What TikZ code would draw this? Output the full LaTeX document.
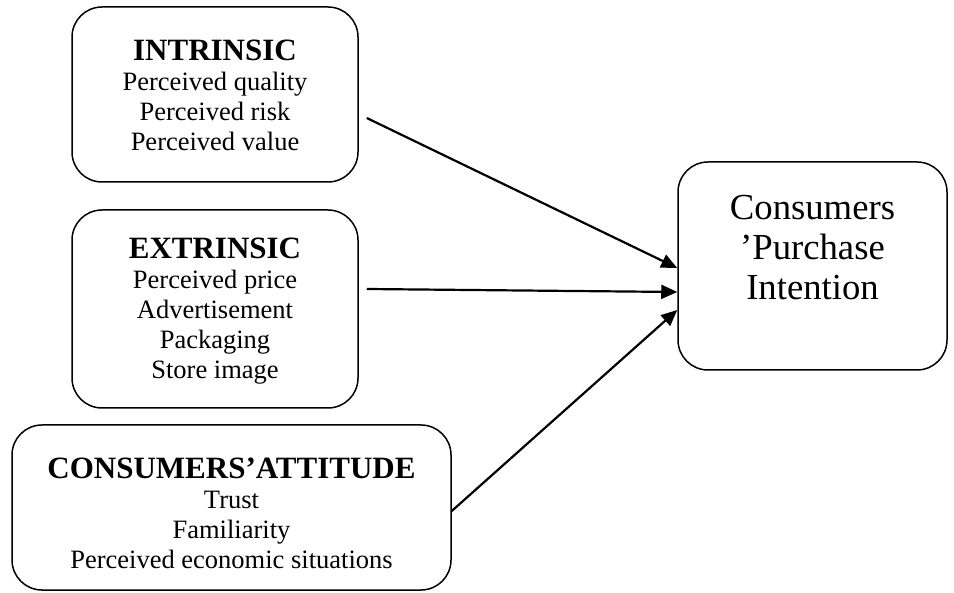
\documentclass[tikz,border=0pt]{standalone}
\usepackage{fontspec}
\setmainfont{Liberation Serif}
\usetikzlibrary{arrows.meta, positioning, calc}

\begin{document}
\begin{tikzpicture}[x=1pt, y=-1pt,
    box/.style={draw, line width=1.5pt, rounded corners=30pt, inner sep=0pt},
    factor/.style={align=center, font=\fontsize{26.5}{30}\selectfont},
    head/.style={font=\fontsize{31}{31}\selectfont\bfseries},
    arr/.style={line width=2.2pt, -{Triangle[length=16pt, width=14pt]}}]
    % Fix the page size
    \useasboundingbox (0,0) rectangle (954,593);

    % Draw factor boxes on the left
    \node[box, minimum width=286pt, minimum height=175pt] (intr) at (215, 94.5) {};
    \node[factor] (intrtext) at ([yshift=-1pt]intr.center) {{\fontsize{31}{31}\selectfont\bfseries INTRINSIC}\\ Perceived quality\\ Perceived risk\\ Perceived value};

    \node[box, minimum width=286pt, minimum height=198pt] (extr) at (215, 309) {};
    \node[factor] (extrtext) at ([yshift=-2pt]extr.center) {{\fontsize{31}{31}\selectfont\bfseries EXTRINSIC}\\ Perceived price\\ Advertisement\\ Packaging\\ Store image};

    \node[box, minimum width=439pt, minimum height=165pt] (att) at (231.5, 507.5) {};
    \node[factor] (atttext) at ([yshift=-6pt]att.center) {{\fontsize{31}{31}\selectfont\bfseries CONSUMERS’ATTITUDE}\\ Trust\\ Familiarity\\ Perceived economic situations};

    % Draw outcome box on the right
    \node[box, minimum width=269pt, minimum height=208pt] (pi) at (812.5, 266) {};
    \node[align=center, font=\fontsize{36.7}{40}\selectfont] (pitext) at ([yshift=18pt]pi.center) {Consumers\\ ’Purchase\\ Intention};

    % Draw arrows
    \draw[arr] ([xshift=8pt, yshift=-23.5pt]intr.east) -- ([yshift=-2pt]pi.west);
    \draw[arr] ([xshift=8pt, yshift=20pt]extr.east) -- ([yshift=-26pt]pi.west);
    \draw[arr] ([yshift=-3.5pt]att.east) -- ([yshift=-44pt]pi.west);
\end{tikzpicture}
\end{document}
